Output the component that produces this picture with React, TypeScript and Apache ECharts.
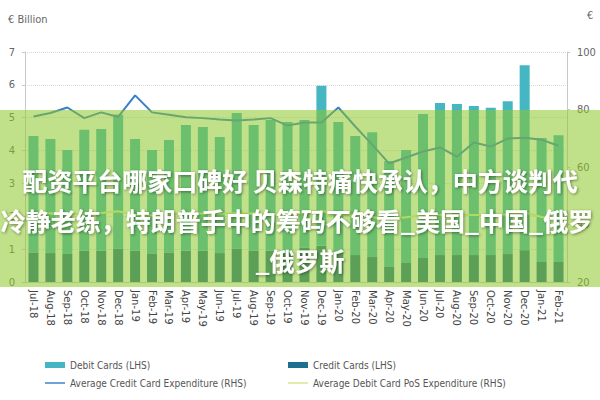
import React, { useEffect, useRef } from "react";
import * as echarts from "echarts";

const months = [
  "Jul-18", "Aug-18", "Sep-18", "Oct-18", "Nov-18", "Dec-18",
  "Jan-19", "Feb-19", "Mar-19", "Apr-19", "May-19", "Jun-19",
  "Jul-19", "Aug-19", "Sep-19", "Oct-19", "Nov-19", "Dec-19",
  "Jan-20", "Feb-20", "Mar-20", "Apr-20", "May-20", "Jun-20",
  "Jul-20", "Aug-20", "Sep-20", "Oct-20", "Nov-20", "Dec-20",
  "Jan-21", "Feb-21",
];

// € billion (LHS)
const creditCards = [
  0.9, 0.88, 0.85, 0.95, 0.95, 1.02, 0.95, 0.87, 0.9, 0.95, 0.95, 0.88,
  1.02, 0.95, 0.95, 0.95, 1.05, 1.1, 0.9, 0.82, 0.76, 0.46, 0.58, 0.73,
  0.82, 0.82, 0.82, 0.82, 0.85, 0.97, 0.61, 0.61,
];
const debitCards = [
  3.54, 3.47, 3.17, 3.68, 3.71, 4.08, 3.4, 3.15, 3.42, 3.83, 3.77, 3.53,
  4.12, 3.83, 3.98, 3.92, 3.88, 4.87, 3.97, 3.62, 3.8, 3.22, 3.44, 4.38,
  4.63, 4.6, 4.54, 4.48, 4.65, 5.63, 3.77, 3.86,
];

// € (RHS)
const avgCreditExp = [
  77.6, 78.8, 80.7, 77, 79, 77.4, 84.9, 79, 78.2, 77.3, 77, 76.5,
  76.2, 76.5, 77, 74.4, 75.5, 75.5, 80.7, 74.1, 67.8, 61.2, 63.3, 65.4,
  66.8, 63.6, 68.5, 67.1, 69.9, 70.2, 69.5, 67.4,
];
const avgDebitPosExp = [
  43.8, 43.9, 43.5, 43.8, 44, 44.6, 43.4, 43.2, 43.6, 43.8, 43.8, 43.7,
  43.9, 43.8, 43.6, 43.7, 43.9, 44.8, 43.3, 43.1, 42.6, 41.8, 42.5, 43.2,
  43.4, 43.4, 43.3, 43.3, 43.5, 44.2, 42.6, 42.4,
];

const leftTicks = { min: 0, max: 7, interval: 1 };
const rightTicks = { min: 20, max: 100, interval: 20 };

const bannerLines = [
  "配资平台哪家口碑好 贝森特痛快承认，中方谈判代",
  "冷静老练，特朗普手中的筹码不够看_美国_中国_俄罗",
  "_俄罗斯",
];

const narrow = "'Liberation Sans Narrow', 'DejaVu Sans Condensed', 'Liberation Sans', sans-serif";
const lineIcon = "path://M0 0H20V2H0Z";

export default function App() {
  const ref = useRef<HTMLDivElement>(null);

  useEffect(() => {
    if (!ref.current) return;
    const chart = echarts.init(ref.current, undefined, { renderer: "svg" });
    chart.setOption({
      animation: false,
      backgroundColor: "#ffffff",
      textStyle: { fontFamily: narrow },
      grid: { left: 25, right: 33, top: 52, bottom: 118 },
      legend: [
        {
          orient: "vertical",
          left: 40,
          top: 355,
          itemWidth: 20,
          itemHeight: 6,
          itemGap: 8,
          textStyle: { fontSize: 10, color: "#555", fontFamily: narrow },
          data: [
            { name: "Debit Cards (LHS)", icon: "rect" },
            { name: "Average Credit Card Expenditure (RHS)", icon: lineIcon },
          ],
        },
        {
          orient: "vertical",
          left: 283,
          top: 355,
          itemWidth: 20,
          itemHeight: 6,
          itemGap: 8,
          textStyle: { fontSize: 10, color: "#555", fontFamily: narrow },
          data: [
            { name: "Credit Cards (LHS)", icon: "rect" },
            { name: "Average Debit Card PoS Expenditure (RHS)", icon: lineIcon },
          ],
        },
      ],
      xAxis: {
        type: "category",
        data: months,
        axisLine: { lineStyle: { color: "#cccccc" } },
        axisTick: { show: false },
        axisLabel: {
          rotate: -90,
          interval: 0,
          fontSize: 10,
          color: "#444",
          margin: 8,
          fontFamily: "'DejaVu Sans', sans-serif",
        },
      },
      yAxis: [
        {
          type: "value",
          ...leftTicks,
          position: "left",
          axisLine: { show: true, lineStyle: { color: "#c8c8c8" } },
          axisTick: { show: true, length: 3, lineStyle: { color: "#c8c8c8" } },
          axisLabel: { fontSize: 11, color: "#666", margin: 10, fontFamily: narrow },
          splitLine: { show: true, lineStyle: { color: "#d9d9d9", type: "dotted" } },
        },
        {
          type: "value",
          ...rightTicks,
          position: "right",
          axisLine: { show: true, lineStyle: { color: "#c8c8c8" } },
          axisTick: { show: true, length: 3, lineStyle: { color: "#c8c8c8" } },
          axisLabel: { fontSize: 11, color: "#666", margin: 10, fontFamily: narrow },
          splitLine: { show: false },
        },
      ],
      series: [
        {
          name: "Credit Cards (LHS)",
          type: "bar",
          stack: "cards",
          yAxisIndex: 0,
          barWidth: 10,
          itemStyle: { color: "#1f6f8e" },
          data: creditCards,
        },
        {
          name: "Debit Cards (LHS)",
          type: "bar",
          stack: "cards",
          yAxisIndex: 0,
          barWidth: 10,
          itemStyle: { color: "#45b6c2" },
          data: debitCards,
        },
        {
          name: "Average Credit Card Expenditure (RHS)",
          type: "line",
          yAxisIndex: 1,
          symbol: "none",
          lineStyle: { color: "#3a7fc6", width: 2 },
          itemStyle: { color: "#6fa3d8" },
          data: avgCreditExp,
          z: 5,
        },
        {
          name: "Average Debit Card PoS Expenditure (RHS)",
          type: "line",
          yAxisIndex: 1,
          symbol: "none",
          lineStyle: { color: "#e3ecb0", width: 2 },
          itemStyle: { color: "#e3ecb0" },
          data: avgDebitPosExp,
          z: 5,
        },
      ],
      graphic: [
        {
          type: "text",
          left: 8,
          top: 14,
          style: { text: "€ Billion", fontSize: 11, fill: "#666", fontFamily: narrow },
        },
        {
          type: "text",
          left: 587,
          top: 10,
          style: { text: "€", fontSize: 11, fill: "#666", fontFamily: narrow },
        },
        {
          type: "rect",
          z: 100,
          shape: { x: 0, y: 110, width: 600, height: 177 },
          style: { fill: "rgba(140,200,40,0.55)" },
        },
        ...bannerLines.map((t, i) => ({
          type: "text",
          z: 101,
          x: i === 1 ? 297 : 300,
          y: 180 + i * 40,
          style: {
            text: t,
            fontSize: 25,
            fontWeight: "bold",
            fill: "#ffffff",
            align: "center",
            verticalAlign: "middle",
            fontFamily: "'Noto Sans CJK SC', sans-serif",
            textShadowColor: "rgba(0,0,0,0.45)",
            textShadowBlur: 3,
            textShadowOffsetX: 1,
            textShadowOffsetY: 1,
          },
        })),
      ],
    });
    return () => chart.dispose();
  }, []);

  return (
    <div
      ref={ref}
      style={{ position: "absolute", left: 0, top: 0, width: 600, height: 400 }}
    />
  );
}
